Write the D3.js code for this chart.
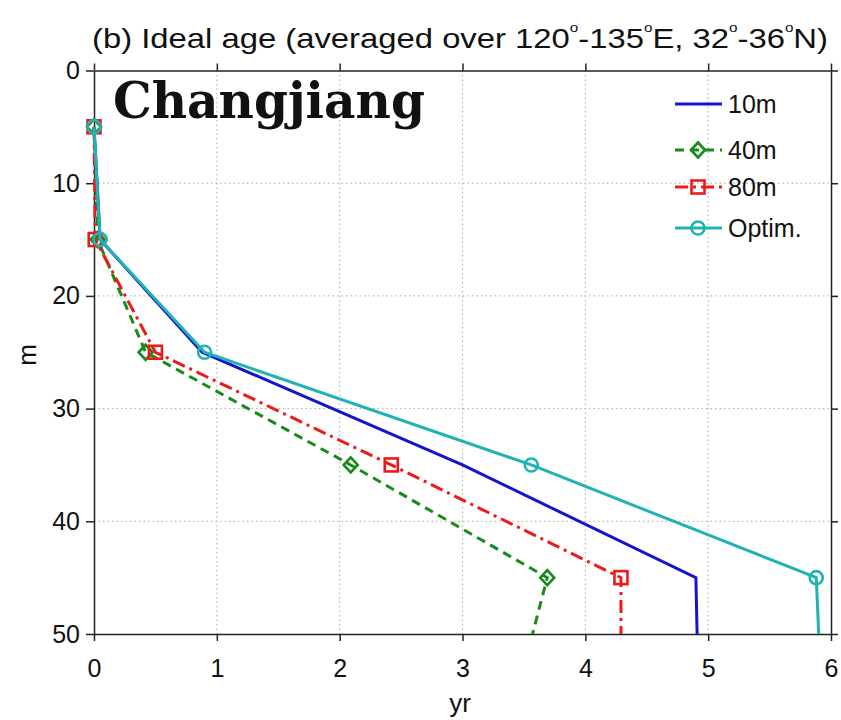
<!DOCTYPE html>
<html>
<head>
<meta charset="utf-8">
<script src="https://cdn.jsdelivr.net/npm/d3@7"></script>
<style>
  body { margin: 0; background: #fff; }
  text { font-family: "Liberation Sans", Arial, sans-serif; fill: #111; }
  .grid line { stroke: #aaa; stroke-width: 1; stroke-dasharray: 1.5,3; }
  .axis path, .axis line { stroke: #222; stroke-width: 1.5; }
  .axis text { font-size: 25px; }
</style>
</head>
<body>
<svg width="841" height="720"></svg>
<script>
// depth levels (m) and ideal age (yr) per experiment
const depths = [5, 15, 25, 35, 45, 50];
const markerDepths = [5, 15, 25, 35, 45];
const age10 = [0.0, 0.05, 0.88, 3.0, 4.90, 4.91];
const age40 = [0.0, 0.03, 0.42, 2.09, 3.69, 3.57];
const age80 = [0.0, 0.01, 0.50, 2.42, 4.29, 4.29];
const ageOpt = [0.0, 0.05, 0.90, 3.56, 5.88, 5.90];
const seriesNames = ["10m", "40m", "80m", "Optim."];
const xTicks = [0, 1, 2, 3, 4, 5, 6];
const yTicks = [0, 10, 20, 30, 40, 50];

let svg = d3.select("svg");
let plotLeft = 94, plotRight = 831, plotTop = 70.5, plotBottom = 634;

let x = d3.scaleLinear().domain([0, 6]).range([plotLeft, plotRight]);
let y = d3.scaleLinear().domain([0, 50]).range([plotTop, plotBottom]);

let series = [
    {name: seriesNames[0], values: age10, color: "#1414cc", dash: null, marker: null},
    {name: seriesNames[1], values: age40, color: "#178a17", dash: "9,6", marker: "diamond"},
    {name: seriesNames[2], values: age80, color: "#ee1a1a", dash: "13,5,3,5", marker: "square"},
    {name: seriesNames[3], values: ageOpt, color: "#1fb3b3", dash: null, marker: "circle"}
];

//grid
let grid = svg.append("g").attr("class", "grid");
grid.selectAll(".gx").data(xTicks.slice(1, -1)).enter().append("line")
    .attr("x1", d => x(d)).attr("x2", d => x(d))
    .attr("y1", plotTop).attr("y2", plotBottom);
grid.selectAll(".gy").data(yTicks.slice(1, -1)).enter().append("line")
    .attr("x1", plotLeft).attr("x2", plotRight)
    .attr("y1", d => y(d)).attr("y2", d => y(d));

//axes
svg.append("g").attr("class", "axis")
    .attr("transform", "translate(0," + plotBottom + ")")
    .call(d3.axisBottom(x).tickValues(xTicks).tickFormat(d3.format("d"))
        .tickSize(7).tickSizeOuter(0).tickPadding(18));
svg.append("g").attr("class", "axis")
    .attr("transform", "translate(0," + plotTop + ")")
    .call(d3.axisTop(x).tickValues(xTicks).tickSize(7).tickSizeOuter(0).tickFormat(""));
svg.append("g").attr("class", "axis")
    .attr("transform", "translate(" + plotLeft + ",0)")
    .call(d3.axisLeft(y).tickValues(yTicks).tickFormat(d3.format("d"))
        .tickSize(8).tickSizeOuter(0).tickPadding(6));
svg.append("g").attr("class", "axis")
    .attr("transform", "translate(" + plotRight + ",0)")
    .call(d3.axisRight(y).tickValues(yTicks).tickSize(7).tickSizeOuter(0).tickFormat(""));
svg.selectAll(".axis text").attr("fill", "#111").style("font-family", "'Liberation Sans', Arial, sans-serif");

function drawMarker(g, type, color) {
    if (type === "circle") {
        g.append("circle").attr("r", 6.5);
    } else if (type === "square") {
        g.append("rect").attr("x", -6.5).attr("y", -6.5).attr("width", 13).attr("height", 13);
    } else if (type === "diamond") {
        g.append("path").attr("d", "M0,-7.5L7,0L0,7.5L-7,0Z");
    }
    g.selectAll("*").attr("fill", "none").attr("stroke", color).attr("stroke-width", 2.6);
}

let line = d3.line().x(d => x(d[1])).y(d => y(d[0]));

let plot = svg.append("g");
series.forEach(function (s) {
    let pts = depths.map((d, i) => [d, s.values[i]]);
    plot.append("path")
        .attr("d", line(pts))
        .attr("fill", "none")
        .attr("stroke", s.color)
        .attr("stroke-width", 3)
        .attr("stroke-dasharray", s.dash);
    if (s.marker) {
        markerDepths.forEach(function (d, i) {
            let g = plot.append("g").attr("transform", "translate(" + x(s.values[i]) + "," + y(d) + ")");
            drawMarker(g, s.marker, s.color);
        });
    }
});

//legend
let legendY = [104, 150, 187, 228];
let legend = svg.append("g");
series.forEach(function (s, i) {
    let g = legend.append("g").attr("transform", "translate(675," + legendY[i] + ")");
    g.append("line").attr("x1", 0).attr("x2", 47)
        .attr("stroke", s.color).attr("stroke-width", 3)
        .attr("stroke-dasharray", s.dash);
    if (s.marker) {
        let m = g.append("g").attr("transform", "translate(23,0)");
        drawMarker(m, s.marker, s.color);
    }
    g.append("text").attr("x", 53).attr("y", 9).style("font-size", "25px").text(s.name);
});

//title
let title = svg.append("text").attr("x", 92).attr("y", 48)
    .attr("textLength", 736).attr("lengthAdjust", "spacingAndGlyphs")
    .style("font-size", "28px");
title.append("tspan").text("(b) Ideal age (averaged over 120");
title.append("tspan").attr("dy", -16).style("font-size", "13px").text("o");
title.append("tspan").attr("dy", 16).text("-135");
title.append("tspan").attr("dy", -16).style("font-size", "13px").text("o");
title.append("tspan").attr("dy", 16).text("E, 32");
title.append("tspan").attr("dy", -16).style("font-size", "13px").text("o");
title.append("tspan").attr("dy", 16).text("-36");
title.append("tspan").attr("dy", -16).style("font-size", "13px").text("o");
title.append("tspan").attr("dy", 16).text("N)");

svg.append("text").attr("x", 113).attr("y", 118)
    .attr("textLength", 312).attr("lengthAdjust", "spacingAndGlyphs")
    .style("font-family", "'DejaVu Serif', 'Liberation Serif', serif")
    .style("font-weight", "bold").style("font-size", "50px")
    .text("Changjiang");

//axis labels
svg.append("text").attr("x", 460).attr("y", 712).attr("text-anchor", "middle")
    .style("font-size", "26px").text("yr");
svg.append("text").attr("transform", "translate(36,355) rotate(-90)").attr("text-anchor", "middle")
    .style("font-size", "26px").text("m");
</script>
</body>
</html>
